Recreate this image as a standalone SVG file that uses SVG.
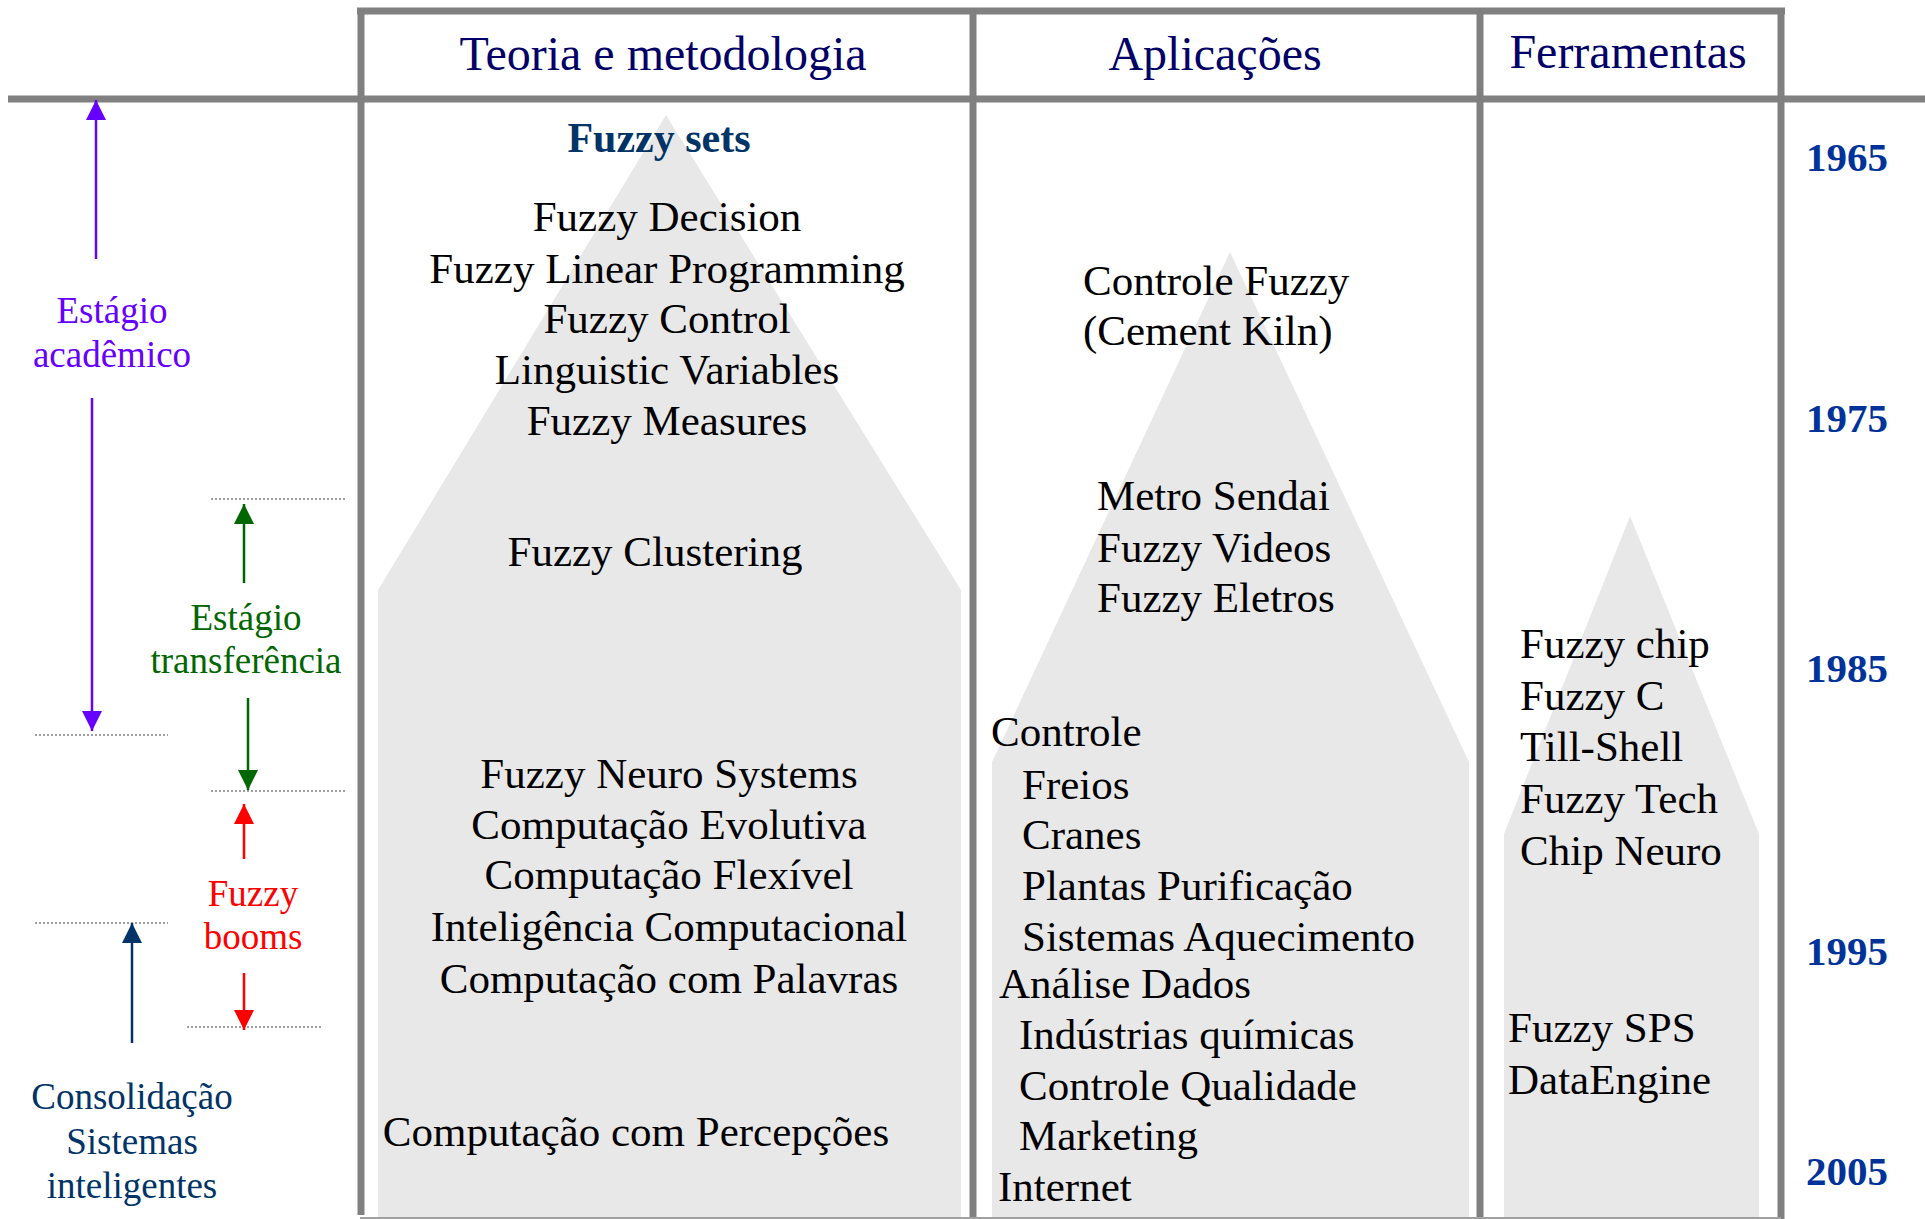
<svg xmlns="http://www.w3.org/2000/svg" width="1925" height="1219" viewBox="0 0 1925 1219">
<style>
text{font-family:"Liberation Serif","Times New Roman",serif;}
.hdr{font-size:48px;fill:#000066;text-anchor:middle;}
.t{font-size:43px;fill:#000;}
.c{text-anchor:middle;}
.yr{font-size:41px;font-weight:bold;fill:#003399;}
.lbl{font-size:37px;text-anchor:middle;}
.pyr{fill:#e8e8e8;stroke:none;}
.grid{stroke:#808080;stroke-width:7;fill:none;}
.dot{stroke:#808080;stroke-width:1.5;stroke-dasharray:2 2;fill:none;}
.arr{fill:none;stroke-width:2.5;}
</style>
<defs>
<marker id="mPurple" markerUnits="userSpaceOnUse" markerWidth="20" markerHeight="20" refX="20" refY="10" orient="auto"><path d="M0,0 L20,10 L0,20 Z" fill="#6600FF"/></marker>
<marker id="mGreen" markerUnits="userSpaceOnUse" markerWidth="20" markerHeight="20" refX="20" refY="10" orient="auto"><path d="M0,0 L20,10 L0,20 Z" fill="#006600"/></marker>
<marker id="mRed" markerUnits="userSpaceOnUse" markerWidth="20" markerHeight="20" refX="20" refY="10" orient="auto"><path d="M0,0 L20,10 L0,20 Z" fill="#FF0000"/></marker>
<marker id="mNavy" markerUnits="userSpaceOnUse" markerWidth="20" markerHeight="20" refX="20" refY="10" orient="auto"><path d="M0,0 L20,10 L0,20 Z" fill="#003366"/></marker>
</defs>
<rect width="1925" height="1219" fill="#ffffff"/>

<g id="pyramids">
<polygon class="pyr" points="666,115 378,590 378,1217 961,1217 961,590"/>
<polygon class="pyr" points="1230,252 992,762 992,1217 1469,1217 1469,762"/>
<polygon class="pyr" points="1630,516 1504,834 1504,1217 1759,1217 1759,834"/>
</g>

<g id="grid">
<line class="grid" x1="357" y1="11" x2="1785" y2="11"/>
<line class="grid" x1="8" y1="99" x2="1925" y2="99"/>
<line class="grid" x1="361" y1="8" x2="361" y2="1215"/>
<line class="grid" x1="973" y1="8" x2="973" y2="1219"/>
<line class="grid" x1="1480" y1="8" x2="1480" y2="1219"/>
<line class="grid" x1="1781" y1="8" x2="1781" y2="1219"/>
<line x1="360" y1="1218" x2="1781" y2="1218" stroke="#a0a0a0" stroke-width="2"/>
</g>

<g id="headers">
<text class="hdr" x="663" y="70">Teoria e metodologia</text>
<text class="hdr" x="1215" y="70">Aplicações</text>
<text class="hdr" x="1628" y="68">Ferramentas</text>
</g>

<g id="teoria">
<text x="659" y="152" style="font-size:42px;font-weight:bold;fill:#003366;text-anchor:middle">Fuzzy sets</text>
<text class="t c" x="667" y="231">Fuzzy Decision</text>
<text class="t c" x="667" y="283">Fuzzy Linear Programming</text>
<text class="t c" x="667" y="333">Fuzzy Control</text>
<text class="t c" x="667" y="384">Linguistic Variables</text>
<text class="t c" x="667" y="435">Fuzzy Measures</text>
<text class="t c" x="655" y="566">Fuzzy Clustering</text>
<text class="t c" x="669" y="788">Fuzzy Neuro Systems</text>
<text class="t c" x="669" y="839">Computação Evolutiva</text>
<text class="t c" x="669" y="889">Computação Flexível</text>
<text class="t c" x="669" y="941">Inteligência Computacional</text>
<text class="t c" x="669" y="993">Computação com Palavras</text>
<text class="t c" x="636" y="1146">Computação com Percepções</text>
</g>

<g id="aplicacoes">
<text class="t" x="1083" y="295">Controle Fuzzy</text>
<text class="t" x="1083" y="345">(Cement Kiln)</text>
<text class="t" x="1097" y="510">Metro Sendai</text>
<text class="t" x="1097" y="562">Fuzzy Videos</text>
<text class="t" x="1097" y="612">Fuzzy Eletros</text>
<text class="t" x="991" y="746">Controle</text>
<text class="t" x="1022" y="799">Freios</text>
<text class="t" x="1022" y="849">Cranes</text>
<text class="t" x="1022" y="900">Plantas Purificação</text>
<text class="t" x="1022" y="951">Sistemas Aquecimento</text>
<text class="t" x="999" y="998">Análise Dados</text>
<text class="t" x="1019" y="1049">Indústrias químicas</text>
<text class="t" x="1019" y="1100">Controle Qualidade</text>
<text class="t" x="1019" y="1150">Marketing</text>
<text class="t" x="998" y="1201">Internet</text>
</g>

<g id="ferramentas">
<text class="t" x="1520" y="658">Fuzzy chip</text>
<text class="t" x="1520" y="710">Fuzzy C</text>
<text class="t" x="1520" y="761">Till-Shell</text>
<text class="t" x="1520" y="813">Fuzzy Tech</text>
<text class="t" x="1520" y="865">Chip Neuro</text>
<text class="t" x="1508" y="1042">Fuzzy SPS</text>
<text class="t" x="1508" y="1094">DataEngine</text>
</g>

<g id="years">
<text class="yr" x="1806" y="171">1965</text>
<text class="yr" x="1806" y="432">1975</text>
<text class="yr" x="1806" y="682">1985</text>
<text class="yr" x="1806" y="965">1995</text>
<text class="yr" x="1806" y="1185">2005</text>
</g>

<g id="stage-academico">
<text class="lbl" x="112" y="323" fill="#6600FF">Estágio</text>
<text class="lbl" x="112" y="367" fill="#6600FF">acadêmico</text>
</g>
<g id="stage-transferencia">
<text class="lbl" x="246" y="630" fill="#006600">Estágio</text>
<text class="lbl" x="246" y="673" fill="#006600">transferência</text>
</g>
<g id="stage-booms">
<text class="lbl" x="253" y="906" fill="#FF0000">Fuzzy</text>
<text class="lbl" x="253" y="949" fill="#FF0000">booms</text>
</g>
<g id="stage-consolidacao">
<text class="lbl" x="132" y="1109" fill="#003366">Consolidação</text>
<text class="lbl" x="132" y="1154" fill="#003366">Sistemas</text>
<text class="lbl" x="132" y="1198" fill="#003366">inteligentes</text>
</g>

<g id="dividers">
<line class="dot" x1="211" y1="499" x2="345" y2="499"/>
<line class="dot" x1="35" y1="735" x2="168" y2="735"/>
<line class="dot" x1="211" y1="791" x2="345" y2="791"/>
<line class="dot" x1="35" y1="923" x2="168" y2="923"/>
<line class="dot" x1="187" y1="1027" x2="321" y2="1027"/>
</g>

<g id="connectors">
<line class="arr" x1="96" y1="259" x2="96" y2="100" stroke="#6600FF" marker-end="url(#mPurple)"/>
<line class="arr" x1="92" y1="398" x2="92" y2="731" stroke="#6600FF" marker-end="url(#mPurple)"/>
<line class="arr" x1="244" y1="583" x2="244" y2="504" stroke="#006600" marker-end="url(#mGreen)"/>
<line class="arr" x1="248" y1="698" x2="248" y2="790" stroke="#006600" marker-end="url(#mGreen)"/>
<line class="arr" x1="244" y1="859" x2="244" y2="804" stroke="#FF0000" marker-end="url(#mRed)"/>
<line class="arr" x1="244" y1="973" x2="244" y2="1030" stroke="#FF0000" marker-end="url(#mRed)"/>
<line class="arr" x1="132" y1="1043" x2="132" y2="923" stroke="#003366" marker-end="url(#mNavy)"/>
</g>
</svg>
